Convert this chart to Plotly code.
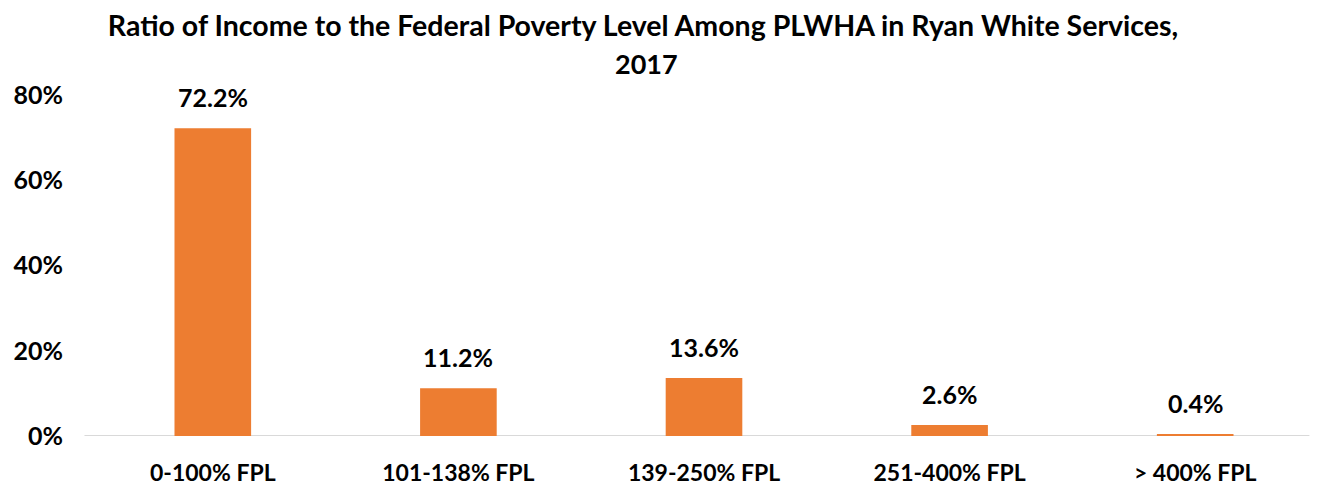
import plotly.graph_objects as go

categories = ["0-100% FPL", "101-138% FPL", "139-250% FPL", "251-400% FPL", "> 400% FPL"]
values = [72.2, 11.2, 13.6, 2.6, 0.4]
labels = ["72.2%", "11.2%", "13.6%", "2.6%", "0.4%"]
y_ticks = [0, 20, 40, 60, 80]
y_tick_labels = ["0%", "20%", "40%", "60%", "80%"]
title_line1 = "Ratio of Income to the Federal Poverty Level Among PLWHA in Ryan White Services,"
title_line2 = "2017"

FONT = "Lato, 'Open Sans', sans-serif"
ORANGE = "#ED7D31"
W, H = 1311, 477  # page body has an 8px margin

fig = go.Figure()
fig.add_trace(go.Bar(x=categories, y=values, marker=dict(color=ORANGE, line=dict(width=0)),
                     hoverinfo="skip"))

for c, v, t in zip(categories, values, labels):
    fig.add_annotation(x=c, y=v, text=t, showarrow=False, yanchor="bottom",
                       yshift=14, font=dict(family=FONT, size=25, color="#000000", weight="bold"))

fig.add_annotation(xref="paper", yref="paper", x=0.4535, y=1.0, yshift=32,
                   xanchor="center", yanchor="middle", showarrow=False,
                   text=title_line2,
                   font=dict(family=FONT, size=27, color="#000000", weight="bold"))

# category axis baseline (light grey)
fig.add_shape(type="line", xref="paper", yref="y", x0=-0.0045, x1=0.993, y0=0, y1=0,
              line=dict(color="#D9D9D9", width=2), layer="below")

fig.update_layout(
    width=W, height=H,
    margin=dict(l=81.5, r=0.5, t=86.5, b=48.5, pad=0),
    paper_bgcolor="white", plot_bgcolor="white",
    bargap=0.688,
    showlegend=False,
    title=dict(text=title_line1,
               x=0.4844, xanchor="center", xref="container",
               y=1 - 18 / H, yanchor="middle", yref="container",
               font=dict(family=FONT, size=28.5, color="#000000", weight="bold")),
    xaxis=dict(showline=False, showgrid=False, zeroline=False,
               automargin=False,
               ticks="outside", ticklen=16, tickcolor="rgba(0,0,0,0)",
               tickfont=dict(family=FONT, size=23, color="#000000", weight="bold"),
               tickvals=categories, ticktext=categories),
    yaxis=dict(range=[0, 80], tickvals=y_ticks, ticktext=y_tick_labels,
               showgrid=False, zeroline=False, showline=False, automargin=False,
               ticks="outside", ticklen=21, tickcolor="rgba(0,0,0,0)",
               tickfont=dict(family=FONT, size=25, color="#000000", weight="bold")),
)

fig.write_html("out.html")
